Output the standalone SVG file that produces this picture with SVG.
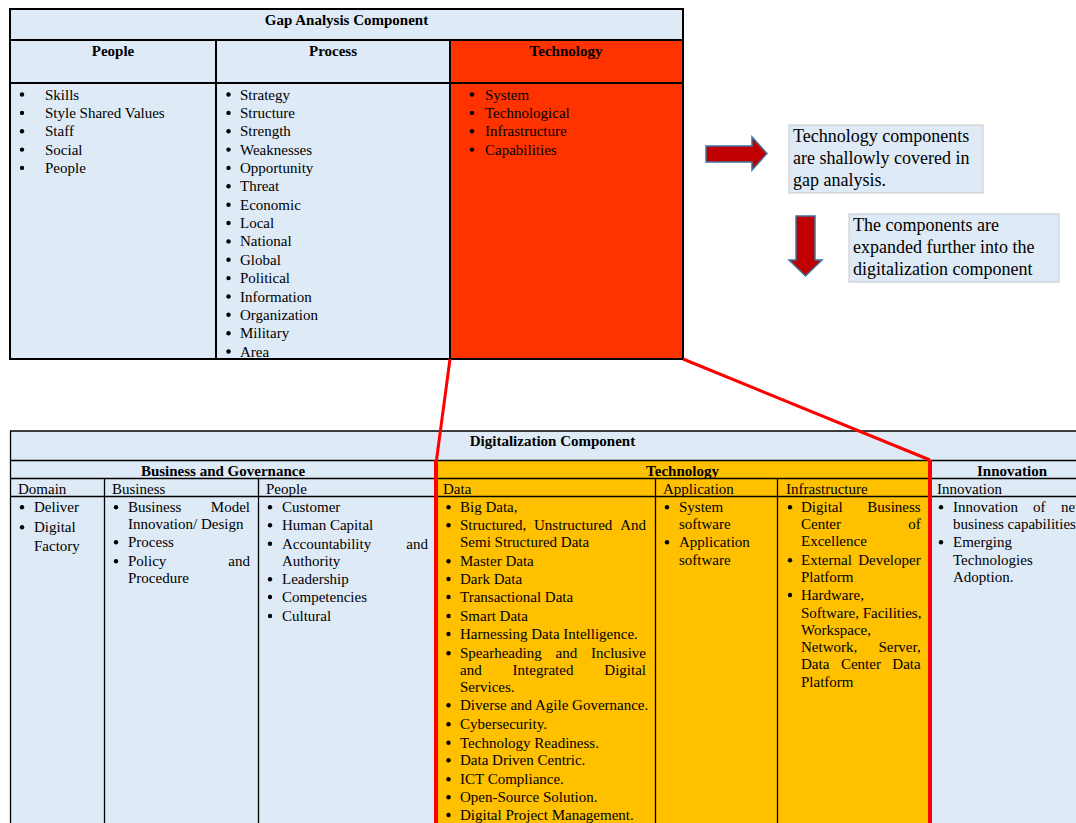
<svg xmlns="http://www.w3.org/2000/svg" width="1076" height="823" viewBox="0 0 1076 823">
<style>
.c{font-family:"Liberation Serif","Times New Roman",serif;font-size:15px;fill:#000}
.b{font-weight:bold}
.m{text-anchor:middle}
.e{text-anchor:end}
.big{font-size:18px}
.lb{fill:#DEEAF6}
.ln{stroke:#000;stroke-width:2;fill:none}
.tn{stroke:#000;stroke-width:1.3;fill:none}
.rd{stroke:#FF0000;stroke-width:4;fill:none}
.arr{fill:#C00000;stroke:#41719C;stroke-width:1.5}
</style>
<defs><circle id="d" r="2.2" fill="#000"/></defs>
<rect width="1076" height="823" fill="#fff"/>

<g id="gap-analysis">
<rect class="lb" x="10" y="9" width="673" height="31"/>
<rect class="lb" x="10" y="40" width="440" height="319"/>
<rect x="450" y="40" width="233" height="319" fill="#FF3300"/>
<rect class="ln" x="10" y="9" width="673" height="350"/>
<path class="ln" d="M10 40H683M10 83H683M216 40V359M450 40V359"/>
<text class="c b m" x="346.5" y="24.5">Gap Analysis Component</text>
<text class="c b m" x="113" y="55.5">People</text>
<text class="c b m" x="333" y="55.5">Process</text>
<text class="c b m" x="566" y="55.5">Technology</text>
<g id="gap-people">
<use href="#d" x="22" y="94.5"/><use href="#d" x="22" y="112.9"/><use href="#d" x="22" y="131.2"/><use href="#d" x="22" y="149.6"/><use href="#d" x="22" y="167.9"/>
<text class="c" x="45" y="99.5">Skills</text>
<text class="c" x="45" y="117.9">Style Shared Values</text>
<text class="c" x="45" y="136.2">Staff</text>
<text class="c" x="45" y="154.6">Social</text>
<text class="c" x="45" y="172.9">People</text>
</g>
<g id="gap-process">
<use href="#d" x="228.5" y="94.5"/><use href="#d" x="228.5" y="112.9"/><use href="#d" x="228.5" y="131.2"/><use href="#d" x="228.5" y="149.6"/><use href="#d" x="228.5" y="167.9"/><use href="#d" x="228.5" y="186.3"/><use href="#d" x="228.5" y="204.7"/><use href="#d" x="228.5" y="223"/><use href="#d" x="228.5" y="241.4"/><use href="#d" x="228.5" y="259.7"/><use href="#d" x="228.5" y="278.1"/><use href="#d" x="228.5" y="296.5"/><use href="#d" x="228.5" y="314.8"/><use href="#d" x="228.5" y="333.2"/><use href="#d" x="228.5" y="351.5"/>
<text class="c" x="240" y="99.5">Strategy</text>
<text class="c" x="240" y="117.9">Structure</text>
<text class="c" x="240" y="136.2">Strength</text>
<text class="c" x="240" y="154.6">Weaknesses</text>
<text class="c" x="240" y="172.9">Opportunity</text>
<text class="c" x="240" y="191.3">Threat</text>
<text class="c" x="240" y="209.7">Economic</text>
<text class="c" x="240" y="228">Local</text>
<text class="c" x="240" y="246.4">National</text>
<text class="c" x="240" y="264.7">Global</text>
<text class="c" x="240" y="283.1">Political</text>
<text class="c" x="240" y="301.5">Information</text>
<text class="c" x="240" y="319.8">Organization</text>
<text class="c" x="240" y="338.2">Military</text>
<text class="c" x="240" y="356.5">Area</text>
</g>
<g id="gap-technology">
<use href="#d" x="472" y="94.5"/><use href="#d" x="472" y="112.9"/><use href="#d" x="472" y="131.2"/><use href="#d" x="472" y="149.6"/>
<text class="c" x="485" y="99.5">System</text>
<text class="c" x="485" y="117.9">Technological</text>
<text class="c" x="485" y="136.2">Infrastructure</text>
<text class="c" x="485" y="154.6">Capabilities</text>
</g>
</g>

<g id="arrow-right"><polygon class="arr" points="706,146 752,146 752,137 767,153.5 752,170 752,162 706,162"/></g>
<g id="note-shallow">
<rect x="789" y="125" width="194" height="68" fill="#DEEAF6" stroke="#C8C8C8" stroke-width="1"/>
<text class="c big" x="793" y="142">Technology components</text>
<text class="c big" x="793" y="164">are shallowly covered in</text>
<text class="c big" x="793" y="186">gap analysis.</text>
</g>
<g id="arrow-down"><polygon class="arr" points="796,216 815,216 815,260 822,260 805.5,276 789,260 796,260"/></g>
<g id="note-expanded">
<rect x="849" y="214" width="210" height="68" fill="#DEEAF6" stroke="#C8C8C8" stroke-width="1"/>
<text class="c big" x="853" y="231">The components are</text>
<text class="c big" x="853" y="253">expanded further into the</text>
<text class="c big" x="853" y="275">digitalization component</text>
</g>

<g id="digitalization">
<rect class="lb" x="10" y="431" width="1090" height="400"/>
<rect x="436" y="460" width="494" height="370" fill="#FFC000"/>
<path class="tn" d="M10 431H1090M10 460.5H1090M10 478.5H1090M10 496.5H1090M10.5 431V823M104.5 478V823M258.5 478V823M655.5 478V823M777.5 478V823"/>
<path class="rd" d="M436 460V823M930 460V823"/>
<text class="c b m" x="552.5" y="445.5">Digitalization Component</text>
<text class="c b m" x="223" y="475.5">Business and Governance</text>
<text class="c b m" x="682.5" y="475.5">Technology</text>
<text class="c b m" x="1012" y="475.5">Innovation</text>
<g id="dig-domain">
<text class="c" x="18" y="493.5">Domain</text>
<use href="#d" x="22" y="507.3"/><use href="#d" x="22" y="527.3"/>
<text class="c" x="34" y="512.3">Deliver</text>
<text class="c" x="34" y="532.3">Digital</text>
<text class="c" x="34" y="550.7">Factory</text>
</g>
<g id="dig-business">
<text class="c" x="112" y="493.5">Business</text>
<use href="#d" x="116" y="507.3"/><use href="#d" x="116" y="542.3"/><use href="#d" x="116" y="561.3"/>
<text class="c" x="128" y="512.3">Business</text><text class="c e" x="250" y="512.3">Model</text>
<text class="c" x="128" y="529.3">Innovation/ Design</text>
<text class="c" x="128" y="547.3">Process</text>
<text class="c" x="128" y="566.3">Policy</text><text class="c e" x="250" y="566.3">and</text>
<text class="c" x="128" y="582.7">Procedure</text>
</g>
<g id="dig-people">
<text class="c" x="266" y="493.5">People</text>
<use href="#d" x="270" y="507.3"/><use href="#d" x="270" y="525.3"/><use href="#d" x="270" y="543.7"/><use href="#d" x="270" y="579.3"/><use href="#d" x="270" y="597"/><use href="#d" x="270" y="616"/>
<text class="c" x="282" y="512.3">Customer</text>
<text class="c" x="282" y="530.3">Human Capital</text>
<text class="c" x="282" y="548.7">Accountability</text><text class="c e" x="428" y="548.7">and</text>
<text class="c" x="282" y="566.3">Authority</text>
<text class="c" x="282" y="584.3">Leadership</text>
<text class="c" x="282" y="602">Competencies</text>
<text class="c" x="282" y="621">Cultural</text>
</g>
<g id="dig-data">
<text class="c" x="443" y="493.5">Data</text>
<use href="#d" x="448.5" y="507.3"/><use href="#d" x="448.5" y="525.3"/><use href="#d" x="448.5" y="561.3"/><use href="#d" x="448.5" y="579"/><use href="#d" x="448.5" y="597"/><use href="#d" x="448.5" y="616"/><use href="#d" x="448.5" y="634"/><use href="#d" x="448.5" y="653.3"/><use href="#d" x="448.5" y="705.3"/><use href="#d" x="448.5" y="724.3"/><use href="#d" x="448.5" y="742.7"/><use href="#d" x="448.5" y="760.3"/><use href="#d" x="448.5" y="779.3"/><use href="#d" x="448.5" y="797.3"/><use href="#d" x="448.5" y="815"/>
<text class="c" x="460" y="512.3">Big Data,</text>
<text class="c" x="460" y="530.3">Structured,</text><text class="c" x="534" y="530.3">Unstructured</text><text class="c e" x="646" y="530.3">And</text>
<text class="c" x="460" y="547.3">Semi Structured Data</text>
<text class="c" x="460" y="566.3">Master Data</text>
<text class="c" x="460" y="584">Dark Data</text>
<text class="c" x="460" y="602">Transactional Data</text>
<text class="c" x="460" y="621">Smart Data</text>
<text class="c" x="460" y="639">Harnessing Data Intelligence.</text>
<text class="c" x="460" y="658.3">Spearheading</text><text class="c" x="555.5" y="658.3">and</text><text class="c e" x="646" y="658.3">Inclusive</text>
<text class="c" x="460" y="675">and</text><text class="c" x="512.6" y="675">Integrated</text><text class="c e" x="646" y="675">Digital</text>
<text class="c" x="460" y="692.3">Services.</text>
<text class="c" x="460" y="710.3">Diverse and Agile Governance.</text>
<text class="c" x="460" y="729.3">Cybersecurity.</text>
<text class="c" x="460" y="747.7">Technology Readiness.</text>
<text class="c" x="460" y="765.3">Data Driven Centric.</text>
<text class="c" x="460" y="784.3">ICT Compliance.</text>
<text class="c" x="460" y="802.3">Open-Source Solution.</text>
<text class="c" x="460" y="820">Digital Project Management.</text>
</g>
<g id="dig-application">
<text class="c" x="663" y="493.5">Application</text>
<use href="#d" x="667" y="507.3"/><use href="#d" x="667" y="542.3"/>
<text class="c" x="679" y="512.3">System</text>
<text class="c" x="679" y="529.3">software</text>
<text class="c" x="679" y="547.3">Application</text>
<text class="c" x="679" y="565">software</text>
</g>
<g id="dig-infrastructure">
<text class="c" x="786" y="493.5">Infrastructure</text>
<use href="#d" x="790" y="507.3"/><use href="#d" x="790" y="560.3"/><use href="#d" x="790" y="595"/>
<text class="c" x="801" y="512.3">Digital</text><text class="c e" x="920.7" y="512.3">Business</text>
<text class="c" x="801" y="529.3">Center</text><text class="c e" x="920.7" y="529.3">of</text>
<text class="c" x="801" y="546.3">Excellence</text>
<text class="c" x="801" y="565.3">External</text><text class="c e" x="920.7" y="565.3">Developer</text>
<text class="c" x="801" y="582">Platform</text>
<text class="c" x="801" y="600">Hardware,</text>
<text class="c" x="801" y="618.3">Software, Facilities,</text>
<text class="c" x="801" y="635.3">Workspace,</text>
<text class="c" x="801" y="652.3">Network,</text><text class="c e" x="920.7" y="652.3">Server,</text>
<text class="c" x="801" y="669">Data</text><text class="c" x="840.9" y="669">Center</text><text class="c e" x="920.7" y="669">Data</text>
<text class="c" x="801" y="687">Platform</text>
</g>
<g id="dig-innovation">
<text class="c" x="937" y="493.5">Innovation</text>
<use href="#d" x="941" y="507.3"/><use href="#d" x="941" y="542.3"/>
<text class="c" x="953" y="512.3">Innovation</text><text class="c" x="1033" y="512.3">of</text><text class="c" x="1061" y="512.3">new</text>
<text class="c" x="953" y="529.3">business capabilities</text>
<text class="c" x="953" y="547.3">Emerging</text>
<text class="c" x="953" y="565">Technologies</text>
<text class="c" x="953" y="582">Adoption.</text>
</g>
</g>

<g id="connectors">
<path d="M450 359L436.5 460" stroke="#FF0000" stroke-width="3" fill="none"/>
<path d="M683 359L930 460" stroke="#FF0000" stroke-width="3" fill="none"/>
</g>
</svg>
